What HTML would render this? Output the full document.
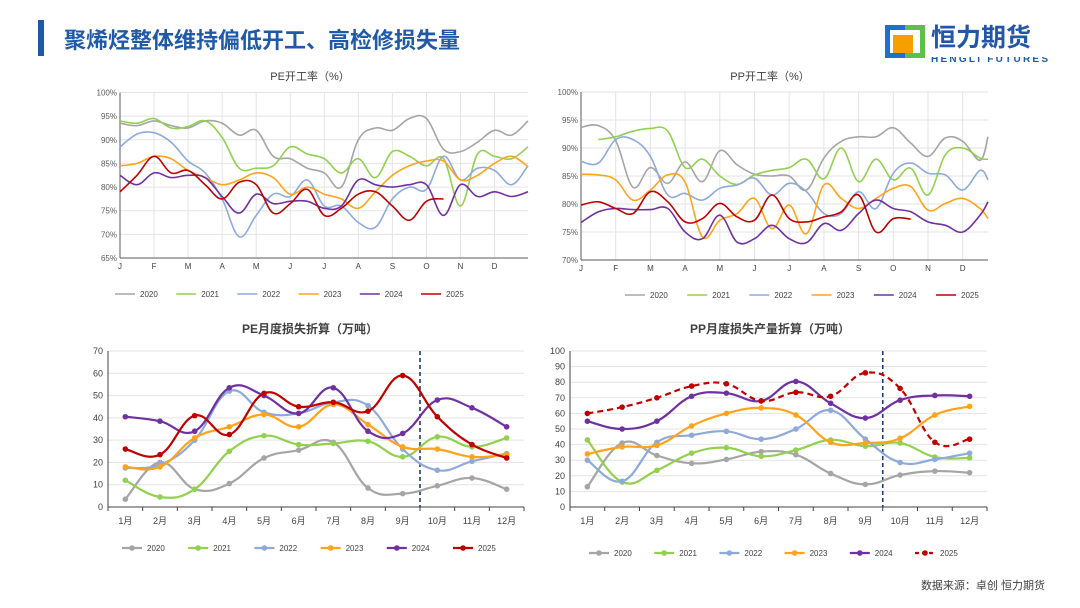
<!DOCTYPE html>
<html><head><meta charset="utf-8"><style>
body{margin:0;background:#fff;}
svg{display:block;font-family:"Liberation Sans","Noto Sans CJK SC",sans-serif;}
</style></head><body>
<svg id="s" width="1080" height="608" viewBox="0 0 1080 608">
<rect x="0" y="0" width="1080" height="608" fill="#fff"/>
<rect x="38" y="20" width="6" height="36" fill="#1f5aa8"/>
<text x="64" y="48" font-size="22" font-weight="bold" fill="#1f5aa8">聚烯烃整体维持偏低开工、高检修损失量</text>
<g>
<rect x="885" y="25" width="20" height="33" fill="#1e6fd0"/>
<rect x="905" y="25" width="20" height="33" fill="#5cc04a"/>
<rect x="890" y="30" width="30" height="23" fill="#fff"/>
<rect x="893" y="35" width="20" height="18" fill="#f5a000"/>
<text x="931" y="46" font-size="25" font-weight="bold" fill="#2456a6">恒力期货</text>
<text x="931" y="62" font-size="10" font-weight="bold" fill="#1f5aa8" textLength="117">HENGLI FUTURES</text>
<rect x="928" y="50" width="125" height="7" fill="#fff"/>
</g>
<text x="310" y="80" font-size="11" text-anchor="middle" fill="#404040">PE开工率（%）</text>
<text x="770" y="80" font-size="11" text-anchor="middle" fill="#404040">PP开工率（%）</text>
<text x="310" y="333" font-size="12" font-weight="bold" text-anchor="middle" fill="#404040">PE月度损失折算（万吨）</text>
<text x="770" y="333" font-size="12" font-weight="bold" text-anchor="middle" fill="#404040">PP月度损失产量折算（万吨）</text>
<text x="1045" y="589" font-size="11" text-anchor="end" fill="#404040">数据来源：卓创  恒力期货</text>
</svg>
<script>
const years=['2020','2021','2022','2023','2024','2025'];
const colors=['#a5a5a5','#92d050','#8eaadb','#ffa31a','#7030a0','#c00000'];
const monthLetters=['J','F','M','A','M','J','J','A','S','O','N','D'];
const monthCats=['1月','2月','3月','4月','5月','6月','7月','8月','9月','10月','11月','12月'];
const peRateTicks=[65,70,75,80,85,90,95,100];
const ppRateTicks=[70,75,80,85,90,95,100];
const peLossTicks=[0,10,20,30,40,50,60,70];
const ppLossTicks=[0,10,20,30,40,50,60,70,80,90,100];
const peRate2020=[93.5,93,94,93,92.5,94,93.5,91,92,86.5,86,84,83,80,90,92.5,92,94.5,94.5,88,87.5,89.5,92,91,94];
const peRate2021=[94,93.5,94.5,92.5,92.8,94,90.5,84,84,84.5,88.5,87,86,83,86,82,87.5,86.5,84.5,86,76,87,86.5,86,88.5];
const peRate2022=[88.5,91.2,91.5,89.5,85.5,83,77.5,69.5,74,78.5,78,81.5,76,76,72.5,71.5,77.5,80,79.5,86.5,81.5,84,83.5,80.5,84.5];
const peRate2023=[84.5,85,86.5,86,83.5,82,80.5,81.5,83,82,78.5,80,78.5,77.5,75.5,79,82.5,84.5,85.5,85.5,81.5,82.5,85,86.5,84.3];
const peRate2024=[82.5,80.5,83,82,82.5,82,78,74.5,78.5,76.5,77,77,75.5,76,81.5,80.5,80,80.5,80.5,74,80.5,78,79,78,79];
const peRate2025=[79,82.5,86.5,83,83.5,80.5,77.5,81,80.5,74.5,76.5,79.5,74,75.5,78.5,79,76,73,77,77.5];
const ppRate2020=[93.7,94,91.3,83,86.5,83.7,87.5,84,89.5,87,85.3,85,85,82.5,88.2,91.2,92,92,93.6,90.9,88.5,91.8,91.2,87.8,92];
const ppRate2021=[null,91.5,92,93,93.5,93,86.5,88,85,83.5,85.2,86,86.5,88,84.5,90,84,88,84.3,86.4,81.6,88.8,90,88.2,88];
const ppRate2022=[87.6,87.3,91.5,91.5,88.5,81.6,81.9,80.7,82.8,83.4,84.6,81.6,83.7,82.2,78.3,78.3,82.2,79.2,85.5,87.3,85.5,85.2,82.5,86,84.3];
const ppRate2023=[85.3,85.2,84.3,80.7,82.5,85.2,83.9,74.1,77.1,78.3,81,75.6,79.8,74.7,83.4,81,79.2,81,82.8,83.1,78.9,80.1,81,79.2,77.4];
const ppRate2024=[76.7,78.6,79.2,79,79,79.2,75,73.8,78,73.2,73.8,76.2,73.8,73.1,76.5,75.3,78.3,80.7,79.2,78.6,76.8,76.2,75,78,80.4];
const ppRate2025=[79.8,80.4,79.2,78.3,82.2,80.4,76.8,77.4,80.1,77.7,77.1,81.6,77.4,76.8,77.7,78.6,81.6,75,77.4,77.3];
const peLoss2020=[3.5,20,8,10.5,22,25.5,29,8.5,6,9.5,13,8];
const peLoss2021=[12,4.5,8,25,32,28,28.5,29.5,22.5,31.5,27,31];
const peLoss2022=[17.5,19,30,52,42.5,42,47,45.5,26,16.5,20.5,24];
const peLoss2023=[18,18,31,36,41.5,36,46,37,27,26,22.5,23.5];
const peLoss2024=[40.5,38.5,34,53.5,50,42,53.5,34,33,48,44.5,36];
const peLoss2025=[26,23.5,41,32.5,51,45,47,43,59,40.5,28,22];
const ppLoss2020=[13,41,33,28,30.5,35.5,33.5,21.5,14.5,20.5,23,22];
const ppLoss2021=[43,16,23.5,34.5,38,32.5,36.5,43,39,41,32,31.5];
const ppLoss2022=[30,16.5,41.5,46,48.5,43.5,50,62,43.5,28.5,30.5,34.5];
const ppLoss2023=[34,38.5,39.5,52,60,63.5,59,41.5,41,44,59,64.5];
const ppLoss2024=[55,50,55,71,73,68,80.5,66.5,57,68.5,71.5,71];
const ppLoss2025=[60,64,70,77.5,79,68,73.5,71,86,76,41.5,43.5];

const S=document.getElementById('s');
const NS='http://www.w3.org/2000/svg';
function mk(tag,attrs,parent){const e=document.createElementNS(NS,tag);for(const k in attrs)e.setAttribute(k,attrs[k]);(parent||S).appendChild(e);return e;}
function smooth(pts,t){
  let d='';
  for(let i=0;i<pts.length;i++){
    const p=pts[i];
    if(i===0){d+='M'+p[0].toFixed(1)+','+p[1].toFixed(1);continue;}
    const p0=pts[i-2]||pts[i-1],p1=pts[i-1],p3=pts[i+1]||p;
    const c1=[p1[0]+(p[0]-p0[0])*t,p1[1]+(p[1]-p0[1])*t];
    const c2=[p[0]-(p3[0]-p1[0])*t,p[1]-(p3[1]-p1[1])*t];
    d+='C'+c1.map(v=>v.toFixed(1))+' '+c2.map(v=>v.toFixed(1))+' '+p[0].toFixed(1)+','+p[1].toFixed(1);
  }
  return d;
}
function segments(vals,xf,yf){
  const segs=[];let cur=[];
  vals.forEach((v,i)=>{if(v==null){if(cur.length)segs.push(cur);cur=[];}else cur.push([xf(i),yf(v)]);});
  if(cur.length)segs.push(cur);return segs;
}

function rateChart(cfg){
  const g=mk('g',{});
  
  
  const y=v=>cfg.y0+(cfg.ymax-v)/(cfg.ymax-cfg.ymin)*(cfg.y1-cfg.y0);
  const x=m=>cfg.x0+m*cfg.mw;
  cfg.ticks.forEach(t=>{
    const l=mk('line',{x1:cfg.x0,x2:cfg.xe,y1:y(t),y2:y(t),stroke:'#e3e3e3','stroke-width':1},g);
    
    
    const tx=mk('text',{x:cfg.x0-3,y:y(t)+3,'font-size':8,'text-anchor':'end',fill:'#595959'},g);
    tx.textContent=t+'%';
    
    
  });
  monthLetters.forEach((m,i)=>{
    if(i>0){const l=mk('line',{x1:x(i),x2:x(i),y1:cfg.y0,y2:cfg.y1,stroke:'#e3e3e3','stroke-width':1},g);
      
      }
    const tx=mk('text',{x:x(i),y:cfg.y1+11,'font-size':8,'text-anchor':'middle',fill:'#404040'},g);
    tx.textContent=m;
    
    
  });
  const ax=mk('line',{x1:cfg.x0,x2:cfg.x0,y1:cfg.y0,y2:cfg.y1,stroke:'#595959','stroke-width':1},g);
  
  
  const bx=mk('line',{x1:cfg.x0,x2:cfg.xe,y1:cfg.y1,y2:cfg.y1,stroke:'#595959','stroke-width':1},g);
  
  
  cfg.series.forEach((vals,si)=>{
    const xf=i=>Math.min(x(i*0.5),cfg.xe);
    segments(vals,xf,y).forEach(pts=>{
      const p=mk('path',{d:smooth(pts,0.18),fill:'none',stroke:colors[si],'stroke-width':1.6},g);
      
      
    });
  });
  years.forEach((yr,i)=>{
    const lx=cfg.legX+i*cfg.legStep;
    const l=mk('line',{x1:lx-25,x2:lx-5,y1:cfg.legY,y2:cfg.legY,stroke:colors[i],'stroke-width':1.6},g);
    
    
    const t=mk('text',{x:lx,y:cfg.legY+3,'font-size':8,fill:'#404040'},g);
    t.textContent=yr;
    
    
  });
}

function lossChart(cfg){
  const g=mk('g',{});
  
  
  const bw=(cfg.xe-cfg.x0)/12;
  const x=i=>cfg.x0+bw*(i+0.5);
  const y=v=>cfg.y1-(v/cfg.ymax)*(cfg.y1-cfg.y0);
  cfg.ticks.forEach(t=>{
    if(t>0){const l=mk('line',{x1:cfg.x0,x2:cfg.xe,y1:y(t),y2:y(t),stroke:'#e3e3e3','stroke-width':1},g);
      
      }
    const tx=mk('text',{x:cfg.x0-5,y:y(t)+3,'font-size':9,'text-anchor':'end',fill:'#404040'},g);
    tx.textContent=t;
    
    
  });
  const ax=mk('line',{x1:cfg.x0,x2:cfg.x0,y1:cfg.y0,y2:cfg.y1,stroke:'#404040','stroke-width':1},g);
  
  
  const bx=mk('line',{x1:cfg.x0,x2:cfg.xe,y1:cfg.y1,y2:cfg.y1,stroke:'#404040','stroke-width':1},g);
  
  
  for(let i=0;i<=12;i++){const l=mk('line',{x1:cfg.x0+bw*i,x2:cfg.x0+bw*i,y1:cfg.y1,y2:cfg.y1+4,stroke:'#404040','stroke-width':1},g);
    
    }
  monthCats.forEach((m,i)=>{
    const tx=mk('text',{x:x(i),y:cfg.y1+17,'font-size':9,'text-anchor':'middle',fill:'#404040'},g);
    tx.textContent=m;
    
    
  });
  const dl=mk('line',{x1:cfg.x0+bw*9,x2:cfg.x0+bw*9,y1:cfg.y0,y2:cfg.y1,stroke:'#1f3a78','stroke-width':1.6,'stroke-dasharray':'4,3'},g);
  
  
  cfg.series.forEach((vals,si)=>{
    const dashed=cfg.dashLast&&si===5;
    const pts=vals.map((v,i)=>[x(i),y(v)]);
    const p=mk('path',{d:smooth(pts,0.2),fill:'none',stroke:colors[si],'stroke-width':2.2,'stroke-dasharray':dashed?'6,4':'none'},g);
    
    
    pts.forEach(pt=>{
      const c=mk('circle',{cx:pt[0],cy:pt[1],r:2.8,fill:colors[si]},g);
      
      
    });
  });
  years.forEach((yr,i)=>{
    const lx=cfg.legX+i*cfg.legStep;
    const dashed=cfg.dashLast&&i===5;
    const l=mk('line',{x1:lx-25,x2:lx-5,y1:cfg.legY,y2:cfg.legY,stroke:colors[i],'stroke-width':2.2,'stroke-dasharray':dashed?'4,3':'none'},g);
    
    
    const c=mk('circle',{cx:lx-15,cy:cfg.legY,r:2.8,fill:colors[i]},g);
    
    
    const t=mk('text',{x:lx,y:cfg.legY+3,'font-size':8,fill:'#404040'},g);
    t.textContent=yr;
    
    
  });
}

rateChart({name:'pe-rate-chart',x0:120,xe:528,mw:34.05,y0:92.5,y1:258,ymin:65,ymax:100,ticks:peRateTicks,
  series:[peRate2020,peRate2021,peRate2022,peRate2023,peRate2024,peRate2025],legX:140,legStep:61.2,legY:294});
rateChart({name:'pp-rate-chart',x0:581,xe:988,mw:34.7,y0:92,y1:260,ymin:70,ymax:100,ticks:ppRateTicks,
  series:[ppRate2020,ppRate2021,ppRate2022,ppRate2023,ppRate2024,ppRate2025],legX:650,legStep:62.2,legY:295});
lossChart({name:'pe-loss-chart',x0:108,xe:524,y0:351,y1:507,ymax:70,ticks:peLossTicks,
  series:[peLoss2020,peLoss2021,peLoss2022,peLoss2023,peLoss2024,peLoss2025],legX:147,legStep:66.2,legY:548});
lossChart({name:'pp-loss-chart',x0:570,xe:987,y0:351,y1:507,ymax:100,ticks:ppLossTicks,dashLast:true,
  series:[ppLoss2020,ppLoss2021,ppLoss2022,ppLoss2023,ppLoss2024,ppLoss2025],legX:614,legStep:65.2,legY:553});
</script>
</body></html>
